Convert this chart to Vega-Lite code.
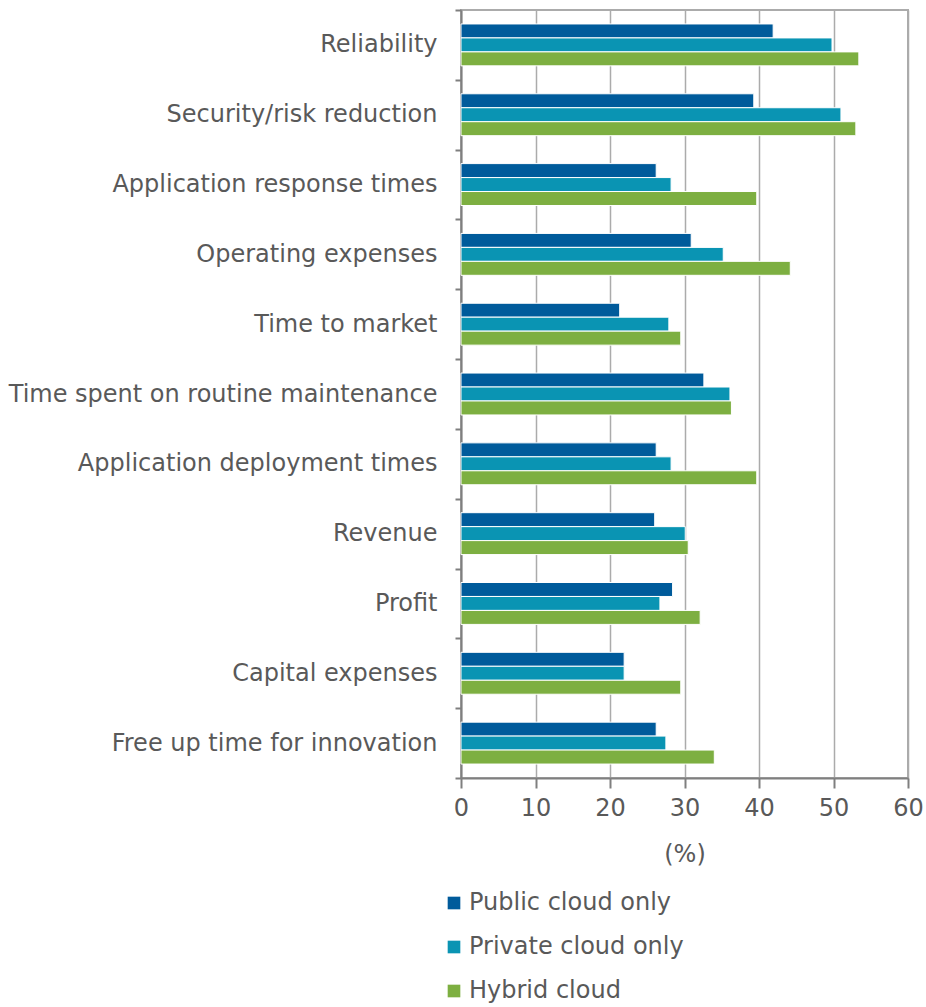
{
  "$schema": "https://vega.github.io/schema/vega-lite/v6.json",
  "width": 447,
  "height": 768,
  "autosize": "none",
  "padding": {"left": 461, "top": 10, "right": 18, "bottom": 229},
  "background": "white",
  "config": {
    "view": {"stroke": "#ababab", "strokeWidth": 2},
    "font": "DejaVu Sans"
  },
  "data": {
    "values": [
      {"category": "Reliability", "type": "Public cloud only", "value": 41.9},
      {"category": "Reliability", "type": "Private cloud only", "value": 49.8},
      {"category": "Reliability", "type": "Hybrid cloud", "value": 53.4},
      {"category": "Security/risk reduction", "type": "Public cloud only", "value": 39.3},
      {"category": "Security/risk reduction", "type": "Private cloud only", "value": 51.0},
      {"category": "Security/risk reduction", "type": "Hybrid cloud", "value": 53.0},
      {"category": "Application response times", "type": "Public cloud only", "value": 26.2},
      {"category": "Application response times", "type": "Private cloud only", "value": 28.2},
      {"category": "Application response times", "type": "Hybrid cloud", "value": 39.7},
      {"category": "Operating expenses\u00a0", "type": "Public cloud only", "value": 30.9},
      {"category": "Operating expenses\u00a0", "type": "Private cloud only", "value": 35.2},
      {"category": "Operating expenses\u00a0", "type": "Hybrid cloud", "value": 44.2},
      {"category": "Time to market", "type": "Public cloud only", "value": 21.3},
      {"category": "Time to market", "type": "Private cloud only", "value": 27.9},
      {"category": "Time to market", "type": "Hybrid cloud", "value": 29.5},
      {"category": "Time spent on routine maintenance", "type": "Public cloud only", "value": 32.6},
      {"category": "Time spent on routine maintenance", "type": "Private cloud only", "value": 36.1},
      {"category": "Time spent on routine maintenance", "type": "Hybrid cloud", "value": 36.3},
      {"category": "Application deployment times", "type": "Public cloud only", "value": 26.2},
      {"category": "Application deployment times", "type": "Private cloud only", "value": 28.2},
      {"category": "Application deployment times", "type": "Hybrid cloud", "value": 39.7},
      {"category": "Revenue", "type": "Public cloud only", "value": 26.0},
      {"category": "Revenue", "type": "Private cloud only", "value": 30.1},
      {"category": "Revenue", "type": "Hybrid cloud", "value": 30.5},
      {"category": "Profit", "type": "Public cloud only", "value": 28.4},
      {"category": "Profit", "type": "Private cloud only", "value": 26.7},
      {"category": "Profit", "type": "Hybrid cloud", "value": 32.1},
      {"category": "Capital expenses", "type": "Public cloud only", "value": 21.9},
      {"category": "Capital expenses", "type": "Private cloud only", "value": 21.9},
      {"category": "Capital expenses", "type": "Hybrid cloud", "value": 29.5},
      {"category": "Free up time for innovation", "type": "Public cloud only", "value": 26.2},
      {"category": "Free up time for innovation", "type": "Private cloud only", "value": 27.5},
      {"category": "Free up time for innovation", "type": "Hybrid cloud", "value": 34.0}
    ]
  },
  "mark": {"type": "bar", "stroke": "white", "strokeWidth": 1},
  "encoding": {
    "y": {
      "field": "category",
      "type": "nominal",
      "sort": null,
      "scale": {"paddingInner": 0, "paddingOuter": 0},
      "axis": {
        "title": null,
        "labelFontSize": 24,
        "labelColor": "#595959",
        "labelPadding": 18,
        "labelLimit": 500,
        "tickSize": 6,
        "tickColor": "#7f7f7f",
        "tickWidth": 2,
        "tickBand": "extent",
        "domainColor": "#7f7f7f",
        "domainWidth": 2
      }
    },
    "yOffset": {
      "field": "type",
      "type": "nominal",
      "sort": ["Public cloud only", "Private cloud only", "Hybrid cloud"],
      "scale": {"paddingInner": 0, "paddingOuter": 1.125}
    },
    "x": {
      "field": "value",
      "type": "quantitative",
      "scale": {"domain": [0, 60], "nice": false},
      "axis": {
        "title": "(%)",
        "titleFontSize": 24,
        "titleFontWeight": "normal",
        "titleColor": "#595959",
        "titlePadding": 22,
        "values": [0, 10, 20, 30, 40, 50, 60],
        "labelFontSize": 24,
        "labelColor": "#595959",
        "labelPadding": 8,
        "labelFlush": false,
        "tickSize": 10,
        "tickColor": "#7f7f7f",
        "tickWidth": 2,
        "domainColor": "#7f7f7f",
        "domainWidth": 2,
        "grid": true,
        "gridColor": "#ababab",
        "gridWidth": 1.5
      }
    },
    "color": {
      "field": "type",
      "type": "nominal",
      "sort": ["Public cloud only", "Private cloud only", "Hybrid cloud"],
      "scale": {
        "domain": ["Public cloud only", "Private cloud only", "Hybrid cloud"],
        "range": ["#005b9b", "#0a94b3", "#7daf41"]
      },
      "legend": {
        "title": null,
        "orient": "none",
        "legendX": -19,
        "legendY": 881,
        "direction": "vertical",
        "symbolType": "square",
        "symbolSize": 160,
        "symbolStrokeWidth": 0,
        "labelFontSize": 24,
        "labelColor": "#595959",
        "labelOffset": 3,
        "labelLimit": 400,
        "rowPadding": 20
      }
    }
  }
}
